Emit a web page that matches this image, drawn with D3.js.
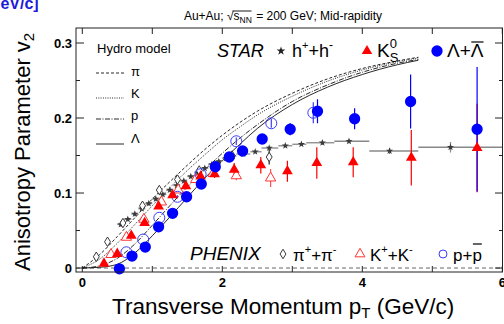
<!DOCTYPE html>
<html>
<head>
<meta charset="utf-8">
<script src="https://cdn.jsdelivr.net/npm/d3@7"></script>
<style>
body { margin: 0; background: #fff; }
svg { display: block; font-family: "Liberation Sans", Arial, sans-serif; }
</style>
</head>
<body>
<div id="chart"></div>
<script>
// hydro model curves (v2 vs pT)
const hydroPt     = [0, 0.25, 0.5, 0.75, 1.0, 1.25, 1.5, 1.75, 2.0, 2.25, 2.5, 3.0, 3.5, 4.0, 4.5, 4.8];
const hydroPion   = [0, 0.018, 0.042, 0.067, 0.092, 0.115, 0.137, 0.158, 0.177, 0.194, 0.209, 0.233, 0.252, 0.266, 0.276, 0.281];
const hydroKaon   = [0, 0.012, 0.033, 0.058, 0.083, 0.107, 0.130, 0.151, 0.171, 0.188, 0.204, 0.229, 0.249, 0.264, 0.275, 0.280];
const hydroProton = [0, 0.003, 0.013, 0.032, 0.057, 0.083, 0.108, 0.131, 0.153, 0.173, 0.191, 0.222, 0.244, 0.261, 0.273, 0.278];
const hydroLambda = [0, 0.001, 0.005, 0.020, 0.043, 0.068, 0.094, 0.120, 0.143, 0.165, 0.186, 0.218, 0.241, 0.258, 0.271, 0.277];

// STAR h+ + h-
const hPt  = [0.55, 0.65, 0.75, 0.85, 0.95, 1.05, 1.15, 1.25, 1.35, 1.45, 1.55, 1.65, 1.75, 1.85, 1.95, 2.05, 2.15, 2.3, 2.47, 2.67, 2.9, 3.13, 3.43, 3.81, 4.39, 5.26];
const hV2  = [0.058, 0.065, 0.072, 0.079, 0.086, 0.092, 0.098, 0.104, 0.110, 0.116, 0.122, 0.127, 0.133, 0.138, 0.142, 0.146, 0.149, 0.152, 0.155, 0.160, 0.163, 0.165, 0.167, 0.169, 0.156, 0.161];
const hLo  = [0.5, 0.6, 0.7, 0.8, 0.9, 1.0, 1.1, 1.2, 1.3, 1.4, 1.5, 1.6, 1.7, 1.8, 1.9, 2.0, 2.1, 2.2, 2.4, 2.56, 2.8, 3.0, 3.2, 3.6, 4.1, 4.8];
const hHi  = [0.6, 0.7, 0.8, 0.9, 1.0, 1.1, 1.2, 1.3, 1.4, 1.5, 1.6, 1.7, 1.8, 1.9, 2.0, 2.1, 2.2, 2.4, 2.56, 2.8, 3.0, 3.2, 3.6, 4.1, 4.8, 6.0];
const hErr = [0.003, 0.003, 0.003, 0.003, 0.003, 0.003, 0.003, 0.003, 0.003, 0.003, 0.003, 0.003, 0.003, 0.003, 0.003, 0.003, 0.003, 0.002, 0.002, 0.002, 0.002, 0.002, 0.003, 0.003, 0.004, 0.007];

// STAR K0s
const k0Pt  = [0.31, 0.5, 0.7, 0.89, 1.09, 1.29, 1.48, 1.69, 1.89, 2.17, 2.55, 2.93, 3.35, 3.87, 4.7, 5.64];
const k0V2  = [0.006, 0.019, 0.043, 0.060, 0.082, 0.097, 0.109, 0.122, 0.125, 0.131, 0.137, 0.129, 0.140, 0.141, 0.147, 0.160];
const k0Err = [0.004, 0.003, 0.003, 0.003, 0.003, 0.003, 0.004, 0.004, 0.005, 0.009, 0.011, 0.014, 0.021, 0.020, 0.037, 0.059];

// STAR Lambda + anti-Lambda
const lamPt  = [0.53, 0.71, 0.9, 1.09, 1.29, 1.49, 1.7, 1.9, 2.1, 2.29, 2.57, 2.97, 3.36, 3.89, 4.69, 5.64];
const lamV2  = [-0.001, 0.016, 0.028, 0.055, 0.073, 0.095, 0.112, 0.135, 0.148, 0.156, 0.172, 0.185, 0.209, 0.199, 0.222, 0.185];
const lamErr = [0.006, 0.003, 0.003, 0.003, 0.003, 0.003, 0.003, 0.004, 0.004, 0.005, 0.006, 0.008, 0.016, 0.014, 0.036, 0.083];

// PHENIX pi+ + pi-
const piPt  = [0.2, 0.36, 0.58, 0.86, 1.1, 1.36, 1.67, 2.14, 2.67];
const piV2  = [0.015, 0.035, 0.060, 0.083, 0.104, 0.118, 0.130, 0.150, 0.148];
const piErr = [0, 0, 0, 0, 0, 0.002, 0.003, 0.004, 0.010];

// PHENIX K+ + K-
const kPt  = [0.41, 0.63, 0.88, 1.13, 1.37, 1.62, 1.87, 2.2, 2.69];
const kV2  = [0.018, 0.041, 0.065, 0.088, 0.104, 0.118, 0.126, 0.123, 0.120];
const kErr = [0, 0, 0, 0.002, 0.003, 0.003, 0.004, 0.006, 0.012];

// PHENIX p + pbar
const pPt  = [0.63, 0.87, 1.1, 1.36, 1.69, 2.2, 2.7, 3.3];
const pV2  = [0.021, 0.038, 0.067, 0.095, 0.125, 0.169, 0.193, 0.207];
const pErr = [0, 0, 0, 0.002, 0.003, 0.005, 0.006, 0.014];

const xTicks = [0, 1, 2, 3, 4, 5, 6];
const xLabels = [0, 2, 4, 6];
const yMajor = [0, 0.1, 0.2, 0.3];
const yMinor = [0.05, 0.15, 0.25];

const W = 504, H = 324;
const svg = d3.select("#chart").append("svg").attr("width", W).attr("height", H);

const x = d3.scaleLinear().domain([-0.09, 6.01]).range([76, 503]);
const y = d3.scaleLinear().domain([-0.0053, 0.32]).range([272, 28]);
const [x0, x1] = x.range();
const [y0, y1] = y.range();

const RED = "#ff0000", BLUE = "#0000ff", OPENBLUE = "#3b3bff", STARC = "#3a3a3a";
const NB = "\u00A0";

// draws a row of text runs, returns end x
function runs(g, xs, ys, parts) {
    let cx = xs, prevStart = xs;
    parts.forEach(p => {
        const start = p.stack ? prevStart : cx;
        const t = g.append("text")
            .attr("x", start).attr("y", ys + (p.dy || 0))
            .attr("font-size", p.s)
            .attr("font-style", p.it ? "italic" : null)
            .attr("fill", "#000")
            .text(p.t);
        const w = t.node().getComputedTextLength();
        if (p.over) {
            g.append("line")
                .attr("x1", start + (p.ox || 0.5)).attr("x2", start + w + (p.ox2 || 0))
                .attr("y1", ys + p.over).attr("y2", ys + p.over)
                .attr("stroke", "#000").attr("stroke-width", p.ow || 1.2);
        }
        prevStart = start;
        cx = Math.max(cx, start + w);
    });
    return cx;
}

// stray slide text at top-left
svg.append("text").attr("x", -12).attr("y", 9)
    .attr("font-size", 16).attr("font-weight", "bold").attr("fill", "#1c1cd8")
    .text("GeV/c]");

// title
const tg = svg.append("g");
const tEnd = runs(tg, 0, 20, [
    {t: "Au+Au;" + NB, s: 12},
    {t: "\u221A", s: 12},
    {t: "s", s: 12, over: -9, ox: -1, ox2: 12, ow: 0.9},
    {t: "NN", s: 8.5, dy: 3},
]);
runs(tg, tEnd + 1, 20, [{t: NB + "=" + NB + "200 GeV; Mid-rapidity", s: 12}]);
{
    const bb = tg.node().getBBox();
    tg.attr("transform", `translate(${283 - bb.width / 2},0)`);
}

// y=0 reference line
svg.append("line")
    .attr("x1", x0).attr("x2", x1).attr("y1", y(0)).attr("y2", y(0))
    .attr("stroke", "#666").attr("stroke-dasharray", "4,3");

// hydro curves
const hydroStyles = [
    {v: hydroPion, dash: "3,2"},
    {v: hydroKaon, dash: "1,1.3"},
    {v: hydroProton, dash: "5,1.5,1,1.5"},
    {v: hydroLambda, dash: null}
];
const curve = d3.line().x(d => x(d[0])).y(d => y(d[1])).curve(d3.curveMonotoneX);
hydroStyles.forEach(s => {
    svg.append("path")
        .attr("d", curve(hydroPt.map((p, i) => [p, s.v[i]])))
        .attr("fill", "none").attr("stroke", "#111").attr("stroke-width", 0.9)
        .attr("stroke-dasharray", s.dash);
});

// error bars
function vErr(pts, vals, errs, color) {
    svg.append("g").selectAll("line").data(pts).join("line")
        .attr("x1", d => x(d)).attr("x2", d => x(d))
        .attr("y1", (d, i) => y(vals[i] - errs[i])).attr("y2", (d, i) => y(vals[i] + errs[i]))
        .attr("stroke", color).attr("stroke-width", 1.2);
}

// h+ + h- bins
svg.append("g").selectAll("line").data(hPt).join("line")
    .attr("x1", (d, i) => x(hLo[i])).attr("x2", (d, i) => x(hHi[i]))
    .attr("y1", (d, i) => y(hV2[i])).attr("y2", (d, i) => y(hV2[i]))
    .attr("stroke", "#888").attr("stroke-width", 1.3);
vErr(hPt, hV2, hErr, "#888");

vErr(piPt, piV2, piErr, "#222");
vErr(kPt, kV2, kErr, "#ff5555");
vErr(pPt, pV2, pErr, OPENBLUE);
vErr(k0Pt, k0V2, k0Err, RED);
vErr(lamPt, lamV2, lamErr, BLUE);

// marker shapes
const diamond = {
    draw(ctx, size) {
        const h = Math.sqrt(size) * 0.75, w = h * 0.62;
        ctx.moveTo(0, -h); ctx.lineTo(w, 0); ctx.lineTo(0, h); ctx.lineTo(-w, 0); ctx.closePath();
    }
};
const sym = (type, size) => d3.symbol().type(type).size(size)();

function markers(pts, vals, type, size, fill, stroke, sw) {
    svg.append("g").selectAll("path").data(pts).join("path")
        .attr("transform", (d, i) => `translate(${x(d)},${y(vals[i])})`)
        .attr("d", sym(type, size))
        .attr("fill", fill).attr("stroke", stroke).attr("stroke-width", sw);
}

markers(hPt, hV2, d3.symbolStar, 16, STARC, "none", 0);
markers(piPt, piV2, diamond, 40, "#fff", "#222", 0.9);
markers(kPt, kV2, d3.symbolTriangle, 46, "#fff", "#ff3333", 1);
markers(pPt, pV2, d3.symbolCircle, 95, "none", OPENBLUE, 1);
markers(k0Pt, k0V2, d3.symbolTriangle, 50, RED, "none", 0);
markers(lamPt, lamV2, d3.symbolCircle, 100, BLUE, "none", 0);

// frame
svg.append("rect")
    .attr("x", x0).attr("y", y1).attr("width", x1 - x0 - 0.5).attr("height", y0 - y1)
    .attr("fill", "none").attr("stroke", "#222").attr("stroke-width", 1);

// ticks, inside the frame on all four sides
const axg = svg.append("g").attr("stroke", "#222").attr("stroke-width", 1);
xTicks.forEach(t => {
    axg.append("line").attr("x1", x(t)).attr("x2", x(t)).attr("y1", y0).attr("y2", y0 - 6);
    axg.append("line").attr("x1", x(t)).attr("x2", x(t)).attr("y1", y1).attr("y2", y1 + 6);
});
yMajor.forEach(t => {
    axg.append("line").attr("x1", x0).attr("x2", x0 + 8).attr("y1", y(t)).attr("y2", y(t));
    axg.append("line").attr("x1", x1).attr("x2", x1 - 8).attr("y1", y(t)).attr("y2", y(t));
});
yMinor.forEach(t => {
    axg.append("line").attr("x1", x0).attr("x2", x0 + 4).attr("y1", y(t)).attr("y2", y(t));
    axg.append("line").attr("x1", x1).attr("x2", x1 - 4).attr("y1", y(t)).attr("y2", y(t));
});

svg.append("g").selectAll("text").data(xLabels).join("text")
    .attr("x", d => x(d)).attr("y", 287)
    .attr("text-anchor", "middle").attr("font-size", 13).attr("font-weight", "bold")
    .text(d => d);
svg.append("g").selectAll("text").data(yMajor).join("text")
    .attr("x", 72).attr("y", d => y(d)).attr("dy", "0.36em")
    .attr("text-anchor", "end").attr("font-size", 13).attr("font-weight", "bold")
    .text(d => d === 0 ? "0" : d3.format(".1f")(d));

// axis titles
const xt = svg.append("text").attr("x", 112).attr("y", 314).attr("font-size", 22.5);
xt.append("tspan").text("Transverse Momentum p");
xt.append("tspan").attr("font-size", 15).attr("dy", 4).text("T");
xt.append("tspan").attr("dy", -4).text(NB + "(GeV/c)");

const yt = svg.append("text").attr("transform", "translate(30,271) rotate(-90)").attr("font-size", 22);
yt.append("tspan").text("Anisotropy Parameter v");
yt.append("tspan").attr("font-size", 15).attr("dy", 4).text("2");

// hydro legend
const lg = svg.append("g");
lg.append("text").attr("x", 97).attr("y", 53).attr("font-size", 13).text("Hydro model");
const hydroLeg = [
    {lab: "\u03C0", yy: 73, ty: 76, dash: "3,2"},
    {lab: "K", yy: 98, ty: 98, dash: "1,1.3"},
    {lab: "p", yy: 119, ty: 120, dash: "5,1.5,1,1.5"},
    {lab: "\u039B", yy: 144, ty: 143, dash: null}
];
hydroLeg.forEach(h => {
    lg.append("line").attr("x1", 96).attr("x2", 124).attr("y1", h.yy).attr("y2", h.yy)
        .attr("stroke", "#111").attr("stroke-width", 0.9).attr("stroke-dasharray", h.dash);
    lg.append("text").attr("x", 131).attr("y", h.ty).attr("font-size", 13).text(h.lab);
});

// STAR legend
const sg = svg.append("g");
runs(sg, 217, 57, [{t: "STAR", s: 18, it: true}]);
sg.append("path").attr("transform", "translate(281,51)").attr("d", sym(d3.symbolStar, 24)).attr("fill", "#222");
runs(sg, 292, 57, [
    {t: "h", s: 18}, {t: "+", s: 11, dy: -8}, {t: "+h", s: 18}, {t: "-", s: 12, dy: -8}
]);
sg.append("path").attr("transform", "translate(367,51)").attr("d", sym(d3.symbolTriangle, 48)).attr("fill", RED);
runs(sg, 377, 57, [
    {t: "K", s: 19}, {t: "0", s: 13, dy: -9}, {t: "S", s: 13, dy: 5, stack: true}
]);
sg.append("path").attr("transform", "translate(437,51)").attr("d", sym(d3.symbolCircle, 100)).attr("fill", BLUE);
runs(sg, 447, 57, [
    {t: "\u039B+", s: 19}, {t: "\u039B", s: 19, over: -15}
]);

// PHENIX legend
const pg = svg.append("g");
runs(pg, 190, 260, [{t: "PHENIX", s: 19, it: true}]);
pg.append("path").attr("transform", "translate(283,254)").attr("d", sym(diamond, 40))
    .attr("fill", "#fff").attr("stroke", "#222").attr("stroke-width", 0.9);
runs(pg, 293, 261, [
    {t: "\u03C0", s: 17}, {t: "+", s: 11, dy: -8}, {t: "+\u03C0", s: 17}, {t: "-", s: 11, dy: -8}
]);
pg.append("path").attr("transform", "translate(360,254)").attr("d", sym(d3.symbolTriangle, 42))
    .attr("fill", "#fff").attr("stroke", "#ff3333").attr("stroke-width", 1);
runs(pg, 370, 261, [
    {t: "K", s: 17}, {t: "+", s: 11, dy: -8}, {t: "+K", s: 17}, {t: "-", s: 11, dy: -8}
]);
pg.append("path").attr("transform", "translate(443,254)").attr("d", sym(d3.symbolCircle, 50))
    .attr("fill", "none").attr("stroke", OPENBLUE).attr("stroke-width", 1);
runs(pg, 453, 261, [
    {t: "p+", s: 17}, {t: "p", s: 17, over: -17}
]);
</script>
</body>
</html>
